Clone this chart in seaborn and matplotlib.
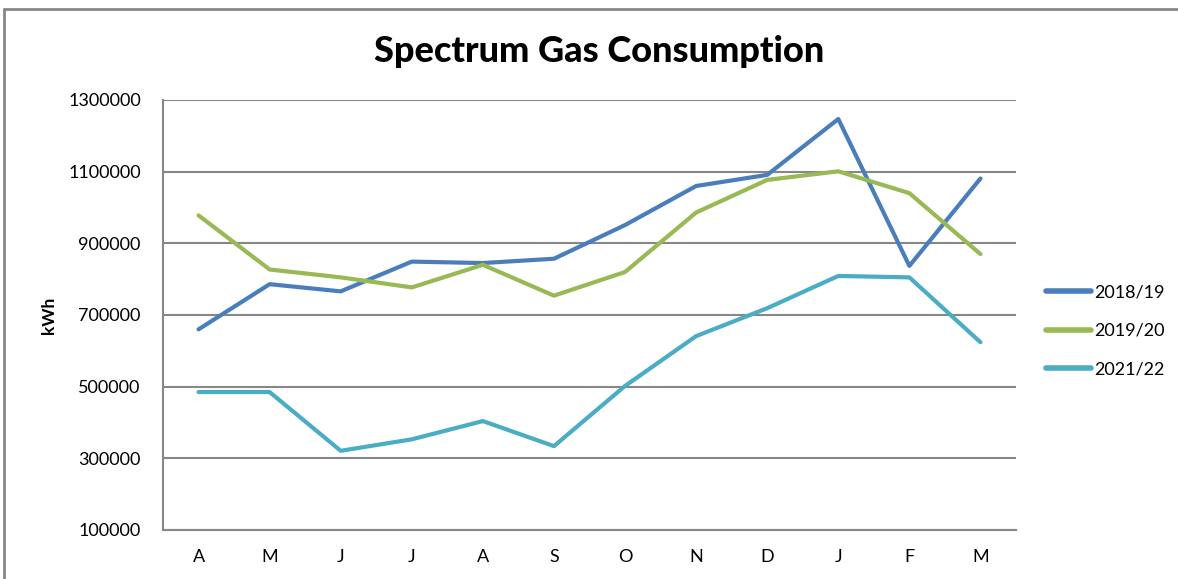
import pandas as pd
import seaborn as sns
import matplotlib.pyplot as plt
from matplotlib.lines import Line2D
from matplotlib.ticker import FixedLocator

months = ['A', 'M', 'J', 'J', 'A', 'S', 'O', 'N', 'D', 'J', 'F', 'M']
y2018 = [660000, 786000, 766000, 849000, 845000, 857000, 951000, 1060000, 1091000, 1247000, 837000, 1081000]
y2019 = [978000, 827000, 805000, 777000, 840000, 754000, 820000, 986000, 1077000, 1101000, 1040000, 870000]
y2021 = [485000, 485000, 321000, 353000, 404000, 334000, 502000, 641000, 719000, 809000, 805000, 624000]
seasons = ['2018/19', '2019/20', '2021/22']
colors = ['#4a7ebb', '#98b954', '#4bacc6']

rows = []
for s, vals in zip(seasons, [y2018, y2019, y2021]):
    for i, v in enumerate(vals):
        rows.append({'pos': i, 'kWh': v, 'season': s})
df = pd.DataFrame(rows)

sns.set_style('white')
plt.rcParams['font.family'] = ['Lato', 'DejaVu Sans']
plt.rcParams['text.color'] = 'black'
plt.rcParams['axes.labelcolor'] = 'black'
plt.rcParams['xtick.labelcolor'] = 'black'
plt.rcParams['ytick.labelcolor'] = 'black'

fig = plt.figure(figsize=(11.78, 5.79), dpi=100)
ax = fig.add_axes([163/1178, 1-530/579, (1016-163)/1178, 430/579])

sns.lineplot(data=df, x='pos', y='kWh', hue='season', palette=colors,
             linewidth=3, ax=ax, legend=False)

grid_c = '#878787'
ax.set_xlim(-0.5, 11.5)
ax.set_ylim(100000, 1300000)
ax.set_yticks(range(100000, 1300001, 200000))
ax.set_yticklabels([str(v) for v in range(100000, 1300001, 200000)], fontsize=13)
ax.set_xticks(range(12))
ax.set_xticklabels(months, fontsize=13)
ax.xaxis.set_minor_locator(FixedLocator([i - 0.5 for i in range(13)]))
ax.tick_params(axis='x', which='major', length=0, pad=14)
ax.tick_params(axis='x', which='minor', length=6, color=grid_c, width=1.5)
ax.tick_params(axis='y', length=6, color=grid_c, width=1.5, pad=10)
ax.yaxis.grid(True, color=grid_c, linewidth=1.5)
ax.set_axisbelow(True)
for side in ['top', 'right']:
    ax.spines[side].set_visible(False)
for side in ['left', 'bottom']:
    ax.spines[side].set_color(grid_c)
    ax.spines[side].set_linewidth(1.5)
ax.set_xlabel('')
ax.set_ylabel('kWh', fontsize=12.5, fontweight='bold', labelpad=8)

fig.text(599/1178, 1-51/579, 'Spectrum Gas Consumption', fontsize=26,
         fontweight='black', ha='center', va='center')

handles = [Line2D([0], [0], color=c, linewidth=4) for c in colors]
fig.legend(handles, seasons, loc='center left', bbox_to_anchor=(1046/1178, 1-331/579),
           frameon=False, fontsize=13, handlelength=2.5, handletextpad=0.15,
           labelspacing=1.25, borderpad=0, borderaxespad=0)

fig.add_artist(Line2D([4/1178, 4/1178], [0, 1-9/579], color=grid_c, linewidth=2))
fig.add_artist(Line2D([4/1178, 1], [1-9/579, 1-9/579], color=grid_c, linewidth=2))

fig.savefig('out.png', dpi=100)
